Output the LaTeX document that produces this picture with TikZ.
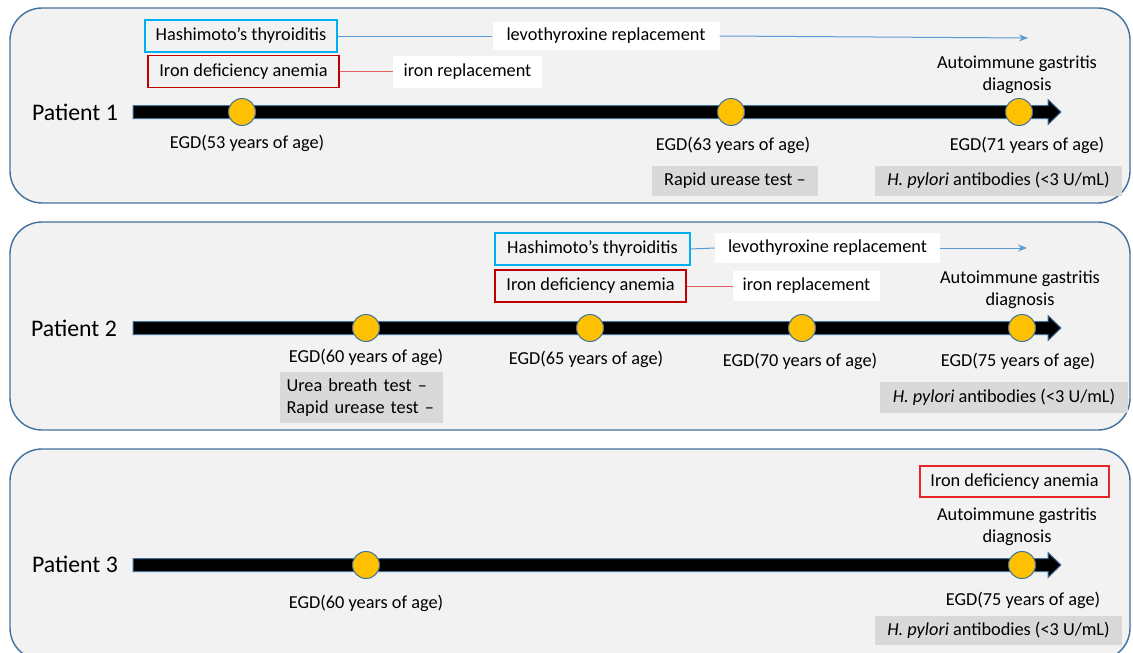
\documentclass[tikz,border=0pt]{standalone}
\usepackage{fontspec}
\setmainfont{Carlito}
\usepackage{tikz}
\usetikzlibrary{positioning, arrows.meta, shapes.geometric}
\definecolor{panelgray}{HTML}{F2F2F2}
\definecolor{panelblue}{HTML}{41719C}
\definecolor{testgray}{HTML}{D9D9D9}
\definecolor{egdyellow}{HTML}{FFC000}
\definecolor{hashblue}{HTML}{00B0F0}
\definecolor{linkblue}{HTML}{5B9BD5}
\definecolor{irondark}{HTML}{C00000}
\definecolor{ironbright}{HTML}{E8262A}
\definecolor{linkred}{HTML}{E06060}

\begin{document}
\begin{tikzpicture}[x=1pt,y=-1pt,
  every node/.style={font=\fontsize{18.3}{22}\selectfont, inner sep=0pt},
  panel/.style={draw=panelblue, fill=panelgray, line width=1.4pt, rounded corners=32pt},
  timebar/.style={fill=black, draw=panelblue, line width=1pt},
  egd/.style={circle, fill=egdyellow, draw=panelblue, line width=1pt, minimum size=27pt},
  hashbox/.style={draw=hashblue, line width=1.2pt, minimum height=32pt, minimum width=192pt},
  ironbox/.style={draw=irondark, line width=1.2pt, minimum height=32pt, minimum width=191pt},
  treatbox/.style={fill=white, minimum height=30pt},
  testbox/.style={fill=testgray, minimum height=30pt},
  patient/.style={font=\fontsize{23.8}{28}\selectfont},
  hashlink/.style={draw=linkblue, line width=1pt},
  ironlink/.style={draw=linkred, line width=1pt}]
\useasboundingbox (0,0) rectangle (1133,653);

% panels
\draw[panel] (10,8) rectangle (1130,203);
\draw[panel] (10,222) rectangle (1130,430);
\draw[panel] (10,449) rectangle (1130,660);

% time lines
\foreach \ty in {112,328,565}
  \draw[timebar] (133,\ty-6.5) -- (1048,\ty-6.5) -- (1048,\ty-12.5) -- (1061,\ty)
    -- (1048,\ty+12.5) -- (1048,\ty+6.5) -- (133,\ty+6.5) -- cycle;

%%% Patient 1
\node (pat1) at (75,112) [patient] {Patient 1};
\node (hash1) at (241,36) [hashbox] {Hashimoto’s thyroiditis};
\node (levo1) at (606,36) [treatbox, minimum width=227pt, minimum height=28pt] {levothyroxine replacement};
\coordinate (levoend1) at (1028,38);
\node (iron1) at (243.5,71.5) [ironbox] {Iron deficiency anemia};
\node (ironr1) at (467.5,71.5) [treatbox, minimum width=149pt, minimum height=32pt] {iron replacement};
\draw[hashlink] (hash1.east) -- (levo1.west);
\draw[hashlink, -{Stealth[length=9pt,width=7pt]}] (levo1.east) -- (levoend1);
\draw[ironlink] (iron1.east) -- (ironr1.west);

\node (e11) at (242,112) [egd] {};
\node (e12) at (731,112) [egd] {};
\node (e13) at (1019,112) [egd] {};
\node (l11) at (247,143) {EGD(53 years of age)};
\node (l12) at (733,145) {EGD(63 years of age)};
\node (l13) at (1027,145) {EGD(71 years of age)};
\node (ag1) at (1017,75) [align=center] {Autoimmune gastritis\\diagnosis};
\node (t12) at (735,180.5) [testbox, minimum width=166pt] {Rapid urease test –};
\node (t13) at (998.5,180.5) [testbox, minimum width=247pt] {\textit{H. pylori} antibodies (<3 U/mL)};

%%% Patient 2
\node (pat2) at (74,328) [patient] {Patient 2};
\node (hash2) at (592.5,249) [hashbox, minimum width=195pt] {Hashimoto’s thyroiditis};
\node (levo2) at (827.5,248) [treatbox, minimum width=225pt] {levothyroxine replacement};
\coordinate (levoend2) at (1027,248);
\node (iron2) at (590.5,286) [ironbox] {Iron deficiency anemia};
\node (ironr2) at (806.5,286) [treatbox, minimum width=147pt] {iron replacement};
\draw[hashlink] (hash2.east) -- (levo2.west);
\draw[hashlink, -{Stealth[length=9pt,width=7pt]}] (levo2.east) -- (levoend2);
\draw[ironlink] (iron2.east) -- (ironr2.west);

\node (e21) at (366,328) [egd] {};
\node (e22) at (590,328) [egd] {};
\node (e23) at (802,328) [egd] {};
\node (e24) at (1022,328) [egd] {};
\node (l21) at (366,357) {EGD(60 years of age)};
\node (l22) at (586,359) {EGD(65 years of age)};
\node (l23) at (800,361) {EGD(70 years of age)};
\node (l24) at (1018,361) {EGD(75 years of age)};
\node (ag2) at (1020,290) [align=center] {Autoimmune gastritis\\diagnosis};
\node (t21) at (361.5,397.5) [testbox, minimum height=51pt, inner xsep=6.5pt, align=left, text width=150pt] {Urea breath test –\\Rapid urease test –};
\node (t24) at (1004,397.5) [testbox, minimum width=248pt, minimum height=31pt] {\textit{H. pylori} antibodies (<3 U/mL)};

%%% Patient 3
\node (pat3) at (75,564) [patient] {Patient 3};
\node (iron3) at (1014.5,481.5) [ironbox, draw=ironbright, minimum width=189pt, minimum height=31pt] {Iron deficiency anemia};
\node (e31) at (366,565) [egd] {};
\node (e32) at (1022,565) [egd] {};
\node (l31) at (366,603) {EGD(60 years of age)};
\node (l32) at (1023,600) {EGD(75 years of age)};
\node (ag3) at (1017,527) [align=center] {Autoimmune gastritis\\diagnosis};
\node (t32) at (998.5,630.5) [testbox, minimum width=247pt, minimum height=29pt] {\textit{H. pylori} antibodies (<3 U/mL)};
\end{tikzpicture}
\end{document}
